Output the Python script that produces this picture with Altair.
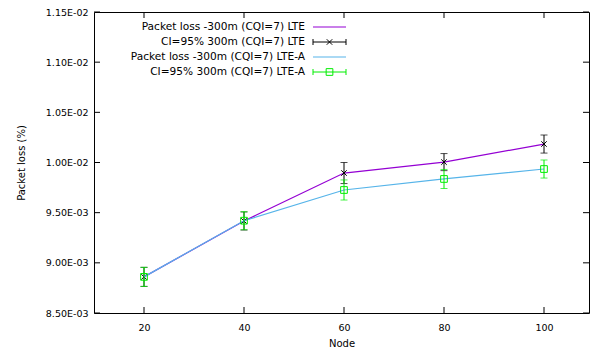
import altair as alt
import pandas as pd

# ---- data ----
nodes = [20, 40, 60, 80, 100]
lte_loss = [8.86e-3, 9.417e-3, 9.895e-3, 1.0004e-2, 1.0184e-2]
lte_ci = [0.095e-3, 0.09e-3, 0.105e-3, 0.085e-3, 0.09e-3]
ltea_loss = [8.86e-3, 9.42e-3, 9.726e-3, 9.836e-3, 9.935e-3]
ltea_ci = [0.095e-3, 0.09e-3, 0.10e-3, 0.095e-3, 0.09e-3]

series_labels = [
    "Packet loss -300m (CQI=7) LTE",
    "CI=95% 300m (CQI=7) LTE",
    "Packet loss -300m (CQI=7) LTE-A",
    "CI=95% 300m (CQI=7) LTE-A",
]
x_ticks = [20, 40, 60, 80, 100]
y_ticks = [0.0085, 0.0090, 0.0095, 0.0100, 0.0105, 0.0110, 0.0115]
y_tick_labels = ["8.50E-03", "9.00E-03", "9.50E-03", "1.00E-02",
                 "1.05E-02", "1.10E-02", "1.15E-02"]
x_title = "Node"
y_title = "Packet loss (%)"

# ---- styling ----
W, H = 495, 301
FONT = "DejaVu Sans"
PURPLE = "#9400d3"
BLACK = "#000000"
SKY = "#56b4e9"
GREEN = "#00ee00"

df = pd.DataFrame({
    "node": nodes,
    "lte": lte_loss,
    "lte_lo": [v - c for v, c in zip(lte_loss, lte_ci)],
    "lte_hi": [v + c for v, c in zip(lte_loss, lte_ci)],
    "ltea": ltea_loss,
    "ltea_lo": [v - c for v, c in zip(ltea_loss, ltea_ci)],
    "ltea_hi": [v + c for v, c in zip(ltea_loss, ltea_ci)],
})

# label expression built from the tick arrays
expr = f"'{y_tick_labels[-1]}'"
for i in range(len(y_ticks) - 2, -1, -1):
    mid = (y_ticks[i] + y_ticks[i + 1]) / 2
    expr = f"datum.value < {mid} ? '{y_tick_labels[i]}' : ({expr})"

xs = alt.Scale(domain=[10, 109], nice=False, zero=False)
ys = alt.Scale(domain=[y_ticks[0], y_ticks[-1]], nice=False, zero=False)

x_axis = alt.Axis(values=x_ticks, ticks=False, domain=False, grid=False,
                  labelFont=FONT, labelFontSize=9.5, labelPadding=9, labelColor=BLACK,
                  titleFont=FONT, titleFontSize=10, titleFontWeight="normal",
                  titleColor=BLACK, titlePadding=7)
y_axis = alt.Axis(values=y_ticks, ticks=False, domain=False, grid=False,
                  labelExpr=expr, labelFont=FONT, labelFontSize=9.5, labelPadding=6,
                  labelColor=BLACK, titleFont=FONT, titleFontSize=10,
                  titleFontWeight="normal", titleColor=BLACK, titlePadding=19)


def X(field):
    return alt.X(f"{field}:Q", scale=xs, axis=x_axis, title=x_title)


def Y(field):
    return alt.Y(f"{field}:Q", scale=ys, axis=y_axis, title=y_title)


base = alt.Chart(df)

layers = []
# LTE line
layers.append(base.mark_line(color=PURPLE, strokeWidth=1.2).encode(x=X("node"), y=Y("lte")))
# LTE CI
layers.append(base.mark_rule(color=BLACK, strokeWidth=1).encode(x=X("node"), y=Y("lte_lo"), y2="lte_hi"))
layers.append(base.mark_tick(color=BLACK, orient="horizontal", size=7, thickness=1).encode(x=X("node"), y=Y("lte_lo")))
layers.append(base.mark_tick(color=BLACK, orient="horizontal", size=7, thickness=1).encode(x=X("node"), y=Y("lte_hi")))
layers.append(base.mark_point(shape="M-1,-1L1,1M-1,1L1,-1", size=30, filled=False,
                              color=BLACK, strokeWidth=1, opacity=1).encode(x=X("node"), y=Y("lte")))
# LTE-A line
layers.append(base.mark_line(color=SKY, strokeWidth=1.2).encode(x=X("node"), y=Y("ltea")))
# LTE-A CI
layers.append(base.mark_rule(color=GREEN, strokeWidth=1).encode(x=X("node"), y=Y("ltea_lo"), y2="ltea_hi"))
layers.append(base.mark_tick(color=GREEN, orient="horizontal", size=7, thickness=1).encode(x=X("node"), y=Y("ltea_lo")))
layers.append(base.mark_tick(color=GREEN, orient="horizontal", size=7, thickness=1).encode(x=X("node"), y=Y("ltea_hi")))
layers.append(base.mark_point(shape="square", size=45, filled=False,
                              color=GREEN, strokeWidth=1, opacity=1).encode(x=X("node"), y=Y("ltea")))

# inward ticks on all four sides
xt = alt.Chart(pd.DataFrame({"t": x_ticks}))
yt = alt.Chart(pd.DataFrame({"t": y_ticks}))
layers.append(xt.mark_rule(color=BLACK, strokeWidth=1).encode(x=X("t"), y=alt.value(H), y2=alt.value(H - 6)))
layers.append(xt.mark_rule(color=BLACK, strokeWidth=1).encode(x=X("t"), y=alt.value(0), y2=alt.value(6)))
layers.append(yt.mark_rule(color=BLACK, strokeWidth=1).encode(y=Y("t"), x=alt.value(0), x2=alt.value(6)))
layers.append(yt.mark_rule(color=BLACK, strokeWidth=1).encode(y=Y("t"), x=alt.value(W), x2=alt.value(W - 6)))

# legend (text right-aligned, sample to the right)
LX_TEXT, LX0, LX1 = 211, 219, 252
LXM = (LX0 + LX1) / 2
rows_y = [15, 30, 45, 60]
for i, lab in enumerate(series_labels):
    ly = rows_y[i]
    c = alt.Chart(pd.DataFrame({"label": [lab]}))
    layers.append(c.mark_text(align="right", baseline="middle", font=FONT, fontSize=10.6,
                              color=BLACK).encode(text="label:N", x=alt.value(LX_TEXT), y=alt.value(ly)))
    col = [PURPLE, BLACK, SKY, GREEN][i]
    layers.append(c.mark_rule(color=col, strokeWidth=1.2 if i % 2 == 0 else 1).encode(
        x=alt.value(LX0), x2=alt.value(LX1), y=alt.value(ly)))
    if i % 2 == 1:
        for ex in (LX0, LX1):
            layers.append(c.mark_rule(color=col, strokeWidth=1).encode(
                x=alt.value(ex), y=alt.value(ly - 3), y2=alt.value(ly + 3)))
        if i == 1:
            layers.append(c.mark_point(shape="M-1,-1L1,1M-1,1L1,-1", size=30, filled=False,
                                       color=BLACK, strokeWidth=1, opacity=1).encode(
                x=alt.value(LXM), y=alt.value(ly)))
        else:
            layers.append(c.mark_point(shape="square", size=45, filled=False,
                                       color=GREEN, strokeWidth=1, opacity=1).encode(
                x=alt.value(LXM), y=alt.value(ly)))

chart = alt.layer(*layers).properties(
    width=W, height=H,
    autosize=alt.AutoSizeParams(type="none"),
    padding={"left": 86, "top": 4, "right": 1, "bottom": 37},
    background="white",
).configure_view(stroke=BLACK, strokeWidth=1)

chart.save("out.html", embed_options={"renderer": "svg", "actions": False})
